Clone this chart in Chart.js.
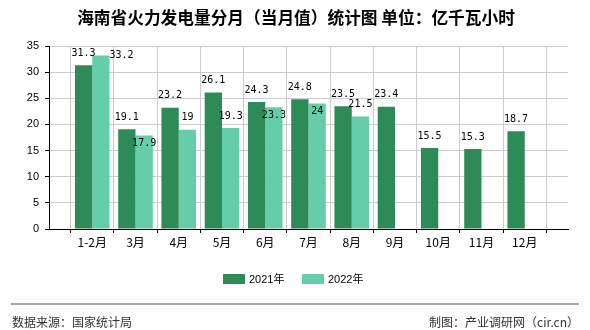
<!DOCTYPE html>
<html>
<head>
<meta charset="utf-8">
<script src="https://cdn.jsdelivr.net/npm/chart.js@4.4.1/dist/chart.umd.min.js"></script>
<style>
   html, body { margin: 0; padding: 0; background: #fff; }
   canvas { display: block; }
</style>
</head>
<body>
<canvas id="barChart" width="590" height="330"></canvas>
<script>
const titleText = '海南省火力发电量分月（当月值）统计图 单位：亿千瓦小时';
const sourceText = '数据来源：国家统计局';
const makerText = '制图：产业调研网（cir.cn）';

const categories = ['1-2月', '3月', '4月', '5月', '6月', '7月', '8月', '9月', '10月', '11月', '12月'];
const seriesNames = ['2021年', '2022年'];
const values2021 = [31.3, 19.1, 23.2, 26.1, 24.3, 24.8, 23.5, 23.4, 15.5, 15.3, 18.7];
const values2022 = [33.2, 17.9, 19, 19.3, 23.3, 24, 21.5, null, null, null, null];
const yMin = 0, yMax = 35, yStep = 5;

// where each value label sits (top = above bar, in = just inside, side = right of bar top)
const labelPlace2021 = ['top', 'top', 'top', 'top', 'top', 'top', 'top', 'top', 'top', 'top', 'top'];
const labelPlace2022 = ['side', 'in', 'top', 'top', 'in', 'in', 'top'];

const colors = ['#2E8B57', '#66CDAA'];

// empty slot at both ends so the bars sit on the grid lines
const xLabels = [''].concat(categories, ['']);
const pad = arr => [null].concat(arr, [null]);

const valueLabels = {
   id: 'valueLabels',
   afterDatasetsDraw(chart) {
      const ctx = chart.ctx;
      ctx.save();
      ctx.font = '10px "DejaVu Sans Mono", monospace';
      ctx.fillStyle = '#000';
      chart.data.datasets.forEach((ds, di) => {
         const meta = chart.getDatasetMeta(di);
         meta.data.forEach((bar, i) => {
            const v = ds.data[i];
            if (v == null) return;
            const place = ds.labelPlace[i - 1] || 'top';
            ctx.textBaseline = 'middle';
            if (place == 'side') {
               ctx.textAlign = 'left';
               ctx.fillText(String(v), bar.x + bar.width / 2, bar.y);
            } else if (place == 'in') {
               ctx.textAlign = 'center';
               ctx.fillText(String(v), bar.x, bar.y + 8);
            } else {
               ctx.textAlign = 'center';
               ctx.fillText(String(v), bar.x, bar.y - 12);
            }
         });
      });
      ctx.restore();
   }
};

const chrome = {
   id: 'chrome',
   afterDraw(chart) {
      const ctx = chart.ctx;
      ctx.save();
      // title
      ctx.fillStyle = '#000';
      ctx.font = 'bold 16.7px "Noto Sans CJK SC"';
      ctx.textAlign = 'center';
      ctx.textBaseline = 'middle';
      ctx.fillText(titleText, 296, 18);

      // legend
      ctx.font = '11px "Liberation Sans", "Noto Sans CJK SC"';
      ctx.textAlign = 'left';
      const legendX = [223, 302];
      chart.data.datasets.forEach((ds, i) => {
         ctx.fillStyle = ds.backgroundColor;
         ctx.fillRect(legendX[i], 274, 22, 10);
         ctx.fillStyle = '#000';
         ctx.fillText(ds.label, legendX[i] + 26, 279.5);
      });

      // footer
      ctx.strokeStyle = '#888';
      ctx.lineWidth = 1.5;
      ctx.beginPath();
      ctx.moveTo(11, 304);
      ctx.lineTo(579, 304);
      ctx.stroke();
      ctx.fillStyle = '#333';
      ctx.font = '12px "Noto Sans CJK SC"';
      ctx.textAlign = 'left';
      ctx.fillText(sourceText, 12, 322);
      ctx.textAlign = 'right';
      ctx.fillText(makerText, 579, 322);
      ctx.restore();
   }
};

new Chart(document.getElementById('barChart').getContext('2d'), {
   type: 'bar',
   data: {
      labels: xLabels,
      datasets: [
         { label: seriesNames[0], data: pad(values2021), backgroundColor: colors[0], labelPlace: labelPlace2021 },
         { label: seriesNames[1], data: pad(values2022), backgroundColor: colors[1], labelPlace: labelPlace2022 }
      ]
   },
   options: {
      responsive: false,
      animation: false,
      layout: { padding: { top: 46, right: 22, left: 0, bottom: 81 } },
      datasets: { bar: { categoryPercentage: 0.8, barPercentage: 1.0 } },
      plugins: {
         legend: { display: false },
         title: { display: false },
         tooltip: { enabled: false }
      },
      scales: {
         x: {
            offset: false,
            afterFit: s => { s.height = 20; },
            grid: { color: '#ccc', tickColor: '#000', tickLength: 4, drawOnChartArea: true },
            border: { color: '#000', width: 1 },
            ticks: {
               color: '#000', padding: 2, maxRotation: 0, autoSkip: false,
               font: { family: '"Noto Sans CJK SC"', size: 12 }
            }
         },
         y: {
            min: yMin, max: yMax,
            afterFit: s => { s.width = 49; },
            grid: { color: '#ccc', tickColor: '#000', tickLength: 4 },
            border: { color: '#000', width: 1 },
            ticks: {
               stepSize: yStep, color: '#000', padding: 6,
               font: { family: '"Liberation Sans"', size: 11 }
            }
         }
      }
   },
   plugins: [valueLabels, chrome]
});
</script>
</body>
</html>
